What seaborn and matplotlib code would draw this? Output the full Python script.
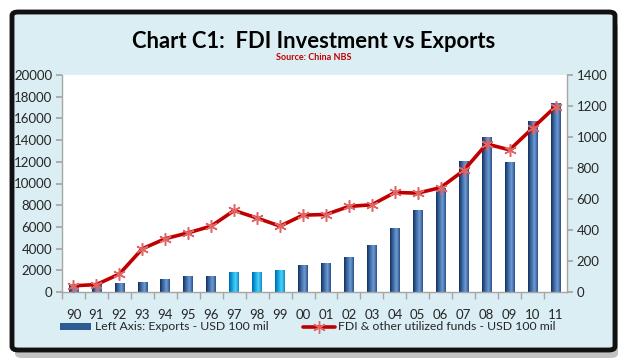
import numpy as np
import pandas as pd
import seaborn as sns
import matplotlib.pyplot as plt
from matplotlib.patches import FancyBboxPatch, Patch
from matplotlib.lines import Line2D
from matplotlib.colors import LinearSegmentedColormap

# data
years = ['90', '91', '92', '93', '94', '95', '96', '97', '98', '99', '00',
         '01', '02', '03', '04', '05', '06', '07', '08', '09', '10', '11']
exports = [620, 740, 860, 950, 1230, 1470, 1500, 1830, 1860, 1990, 2450,
           2640, 3220, 4330, 5920, 7550, 9630, 12100, 14260, 12000, 15770, 17400]
fdi = [40, 48, 116, 279, 344, 382, 425, 526, 477, 425, 496,
       500, 552, 563, 642, 638, 674, 784, 955, 917, 1057, 1196]
cyan_years = ['97', '98', '99']

sns.set_theme(style='white')
plt.rcParams['font.family'] = ['Lato', 'DejaVu Sans']

bg = '#DAEEF3'
fig = plt.figure(figsize=(6.28, 3.63), dpi=100)
fig.patch.set_facecolor('white')

# outer frame with shadow
W, H = 628, 363
shadow = FancyBboxPatch((15 / W, 5 / H), 603 / W, 336 / H,
                        boxstyle='round,pad=0,rounding_size=0.012',
                        transform=fig.transFigure, facecolor='#9a9a9a',
                        edgecolor='none', alpha=0.6, zorder=-2)
fig.patches.append(shadow)
frame = FancyBboxPatch((12 / W, 13 / H), 603 / W, 338 / H,
                       boxstyle='round,pad=0,rounding_size=0.01',
                       transform=fig.transFigure, facecolor=bg,
                       edgecolor='#111111', linewidth=3.5, zorder=-1)
fig.patches.append(frame)

ax = fig.add_axes([62 / W, 1 - 292 / H, 505 / W, 217 / H])
ax.set_facecolor('white')

df = pd.DataFrame({'year': years, 'exports': exports, 'fdi': fdi})
palette = {y: ('#00A8E8' if y in cyan_years else '#2F5B93') for y in years}
sns.barplot(data=df, x='year', y='exports', hue='year', palette=palette,
            width=0.42, legend=False, ax=ax, saturation=1, zorder=2)

# horizontal gradient inside each bar
navy = LinearSegmentedColormap.from_list('navy', ['#14305A', '#3D6BA8', '#6E9BD2', '#2B5189'])
cyan = LinearSegmentedColormap.from_list('cyan', ['#0067A8', '#12A6E0', '#4FD0F8', '#0A8CC8'])
grad = np.linspace(0, 1, 64).reshape(1, -1)
for patch, y in zip(ax.patches, years):
    x0, y0 = patch.get_x(), patch.get_y()
    w, h = patch.get_width(), patch.get_height()
    im = ax.imshow(grad, extent=[x0, x0 + w, y0, y0 + h], aspect='auto',
                   cmap=cyan if y in cyan_years else navy, zorder=2.5)
    im.set_clip_path(patch)

ax.set_xlim(-0.5, len(years) - 0.5)
ax.set_ylim(0, 20000)
ax.set_yticks(range(0, 20001, 2000))
ax.set_xlabel('')
ax.set_ylabel('')

ax2 = ax.twinx()
sns.lineplot(x=np.arange(len(years)), y=fdi, ax=ax2, color='#C00000',
             linewidth=2.6, marker=(6, 2, 0), markersize=9,
             markeredgecolor='#E06666', markeredgewidth=1.1, zorder=5)
ax2.set_ylim(0, 1400)
ax2.set_yticks(range(0, 1401, 200))
ax2.set_xlim(-0.5, len(years) - 0.5)

grey = '#A6A6A6'
for a in (ax, ax2):
    for s in a.spines.values():
        s.set_visible(False)
ax.spines['left'].set_visible(True)
ax.spines['bottom'].set_visible(True)
ax2.spines['right'].set_visible(True)
for s in (ax.spines['left'], ax.spines['bottom'], ax2.spines['right']):
    s.set_color(grey)
    s.set_linewidth(1)

txt = '#262626'
ax.tick_params(axis='y', left=True, length=4, color=grey, labelsize=9.5,
               labelcolor=txt, pad=3)
ax2.tick_params(axis='y', right=True, length=4, color=grey, labelsize=9.5,
                labelcolor=txt, pad=3)
ax.set_xticks(np.arange(len(years)))
ax.set_xticklabels(years)
ax.tick_params(axis='x', bottom=False, labelsize=9.5, labelcolor=txt, pad=6)
ax.set_xticks(np.arange(len(years)) - 0.5, minor=True)
ax.tick_params(axis='x', which='minor', bottom=True, length=5, color=grey)

fig.text(0.5, 1 - 41 / H, 'Chart C1:  FDI Investment vs Exports', ha='center',
         va='center', fontsize=15.8, fontweight='bold', color='black')
fig.text(0.5, 1 - 58 / H, 'Source: China NBS', ha='center', va='center',
         fontsize=6.5, fontweight='bold', color='#C00000')

handles = [Patch(facecolor='#2F5B93', edgecolor='none'),
           Line2D([], [], color='#C00000', linewidth=2.6, marker=(6, 2, 0),
                  markersize=9, markeredgecolor='#E06666', markeredgewidth=1.0)]
labels = ['Left Axis: Exports - USD 100 mil',
          'FDI & other utilized funds - USD 100 mil']
fig.legend(handles, labels, loc='center', bbox_to_anchor=(0.49, 1 - 327 / H),
           ncol=2, frameon=False, fontsize=8.8, handlelength=2.6,
           handleheight=0.5, columnspacing=2.8, handletextpad=0.3,
           labelcolor=txt)

fig.savefig('out.png', dpi=100)
